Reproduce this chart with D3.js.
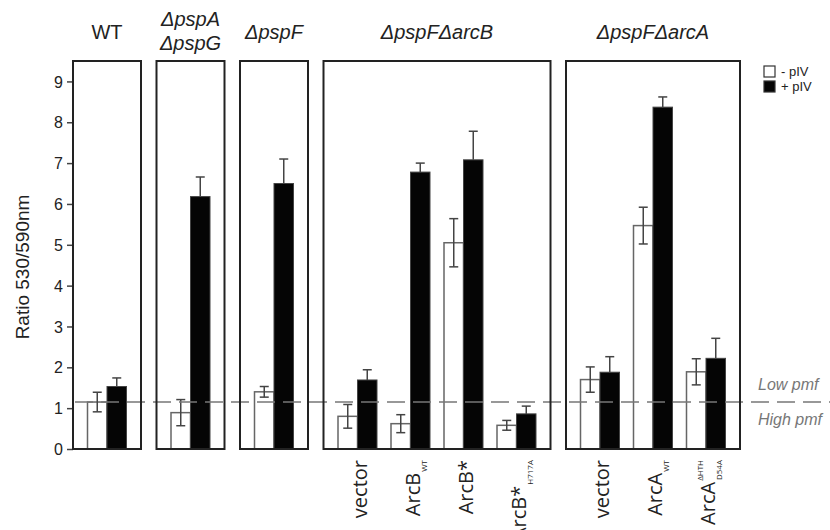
<!DOCTYPE html>
<html lang="en">
	<head>
		<meta charset="utf-8">
		<title>Ratio 530/590nm</title>
		<script type="text/javascript" src="https://cdn.jsdelivr.net/npm/d3@7"></script>
		<style type="text/css">
			body { margin: 0; background: #fff; }
			svg { display: block; }
			text { font-family: "Liberation Sans", Arial, sans-serif; fill: #222; }
			.strain { font-size: 20px; font-style: italic; text-anchor: middle; }
			.cat { font-family: "Open Sans", sans-serif; font-size: 20px; }
			.cat-small { font-family: "Open Sans", sans-serif; font-size: 8px; }
			.pmf { font-size: 16px; font-style: italic; fill: #777; }
		</style>
	</head>
	<body>
		<script type="text/javascript">

			var w = 830;
			var h = 530;

			// strains (one boxed panel each)
			var panels = ["WT", "\u0394pspA|\u0394pspG", "\u0394pspF", "\u0394pspF\u0394arcB", "\u0394pspF\u0394arcA"];

			// conditions, with the panel they sit in
			var catPanel = [0, 1, 2, 3, 3, 3, 3, 4, 4, 4];
			var catMain  = ["", "", "", "vector", "ArcB", "ArcB*", "ArcB*", "vector", "ArcA", "ArcA"];
			var catSub   = ["", "", "", "", "WT", "", "H717A", "", "WT", "D54A"];
			var catSup   = ["", "", "", "", "", "", "", "", "", "\u0394HTH"];

			// - pIV (open bars) and + pIV (filled bars), mean and error
			var minusPIV = [1.15, 0.89, 1.40, 0.80, 0.62, 5.05, 0.58, 1.70, 5.47, 1.89];
			var minusErr = [0.24, 0.32, 0.13, 0.29, 0.22, 0.59, 0.12, 0.31, 0.45, 0.32];
			var plusPIV  = [1.53, 6.18, 6.50, 1.69, 6.78, 7.08, 0.86, 1.88, 8.37, 2.22];
			var plusErr  = [0.21, 0.48, 0.60, 0.25, 0.22, 0.70, 0.19, 0.38, 0.25, 0.49];

			var yTicks = [0, 1, 2, 3, 4, 5, 6, 7, 8, 9];
			var pmfLevel = 1.15;

			// layout
			var plotLeft = 73, plotTop = 61, plotBottom = 449;
			var groupStep = 53, panelPad = 7.5, panelGap = 15.5;

			var svg = d3.select("body")
						.append("svg")
						.attr("width", w)
						.attr("height", h);

			var y = d3.scaleLinear()
						.domain([0, 9.5])
						.range([plotBottom, plotTop]);

			// one band scale per panel
			var panelScales = [];
			var cursor = plotLeft;
			panels.forEach(function(p, pi) {
				var cats = d3.range(catPanel.length).filter(function(i) { return catPanel[i] === pi; });
				var width = cats.length * groupStep + 2 * panelPad;
				var s = d3.scaleBand()
						.domain(cats)
						.range([cursor, cursor + width])
						.paddingInner(0)
						.paddingOuter(panelPad / groupStep);
				panelScales.push(s);
				cursor += width + panelGap;
			});

			function groupX(i) { return panelScales[catPanel[i]](i); }
			function groupW(i) { return panelScales[catPanel[i]].bandwidth(); }

			// bars within a group
			var inner = d3.scaleBand()
						.domain(["minus", "plus"])
						.range([0, 39]);
			function barX(i, k) { return groupX(i) + (groupW(i) - 39) / 2 + inner(k); }

			// y axis ticks
			svg.append("g")
				.attr("transform", "translate(" + plotLeft + ",0)")
				.call(d3.axisLeft(y).tickValues(yTicks).tickSize(6).tickSizeOuter(0).tickFormat(d3.format("d")))
				.call(function(g) {
					g.select(".domain").remove();
					g.selectAll(".tick line").attr("stroke", "#444").attr("stroke-width", 1.5);
					g.selectAll(".tick text").attr("x", -10).attr("dy", "0.35em")
						.attr("font-size", 16).attr("font-family", "'Liberation Sans', Arial, sans-serif").attr("fill", "#222");
				});

			svg.append("text")
				.attr("transform", "translate(29,267) rotate(-90)")
				.attr("text-anchor", "middle")
				.style("font-size", "19px")
				.text("Ratio 530/590nm");

			var idx = d3.range(catPanel.length);

			// open bars
			svg.selectAll("rect.minus")
				.data(idx)
				.enter()
				.append("rect")
				.attr("class", "minus")
				.attr("x", function(i) { return barX(i, "minus"); })
				.attr("y", function(i) { return y(minusPIV[i]); })
				.attr("width", inner.bandwidth())
				.attr("height", function(i) { return y(0) - y(minusPIV[i]); })
				.attr("fill", "#fff")
				.attr("stroke", "#666")
				.attr("stroke-width", 1.5);

			// filled bars
			svg.selectAll("rect.plus")
				.data(idx)
				.enter()
				.append("rect")
				.attr("class", "plus")
				.attr("x", function(i) { return barX(i, "plus"); })
				.attr("y", function(i) { return y(plusPIV[i]); })
				.attr("width", inner.bandwidth())
				.attr("height", function(i) { return y(0) - y(plusPIV[i]); })
				.attr("fill", "#050505")
				.attr("stroke", "#444")
				.attr("stroke-width", 1);

			// error bars: both ways on open bars, upward only on filled bars
			function errBar(cls, vals, errs, k, lowerToo) {
				var g = svg.selectAll("g." + cls)
					.data(idx)
					.enter()
					.append("g")
					.attr("class", cls)
					.attr("stroke", "#444")
					.attr("stroke-width", 1.5);
				var cx = function(i) { return barX(i, k) + inner.bandwidth() / 2; };
				var lo = function(i) { return lowerToo ? vals[i] - errs[i] : vals[i]; };
				g.append("line")
					.attr("x1", cx).attr("x2", cx)
					.attr("y1", function(i) { return y(lo(i)); })
					.attr("y2", function(i) { return y(vals[i] + errs[i]); });
				g.append("line")
					.attr("x1", function(i) { return cx(i) - 4.5; })
					.attr("x2", function(i) { return cx(i) + 4.5; })
					.attr("y1", function(i) { return y(vals[i] + errs[i]); })
					.attr("y2", function(i) { return y(vals[i] + errs[i]); });
				if (lowerToo) {
					g.append("line")
						.attr("x1", function(i) { return cx(i) - 4.5; })
						.attr("x2", function(i) { return cx(i) + 4.5; })
						.attr("y1", function(i) { return y(vals[i] - errs[i]); })
						.attr("y2", function(i) { return y(vals[i] - errs[i]); });
				}
			}
			errBar("err-minus", minusPIV, minusErr, "minus", true);
			errBar("err-plus", plusPIV, plusErr, "plus", false);

			// pmf threshold
			svg.append("line")
				.attr("x1", plotLeft + 2)
				.attr("x2", w)
				.attr("y1", y(pmfLevel))
				.attr("y2", y(pmfLevel))
				.attr("stroke", "#777")
				.attr("stroke-width", 1.5)
				.attr("stroke-dasharray", "18,8");

			svg.append("text")
				.attr("class", "pmf")
				.attr("x", 758)
				.attr("y", y(pmfLevel) - 12)
				.text("Low pmf");
			svg.append("text")
				.attr("class", "pmf")
				.attr("x", 758)
				.attr("y", y(pmfLevel) + 23)
				.text("High pmf");

			// panel frames and strain names
			panels.forEach(function(p, pi) {
				var r = panelScales[pi].range();
				svg.append("rect")
					.attr("x", r[0])
					.attr("y", plotTop)
					.attr("width", r[1] - r[0])
					.attr("height", plotBottom - plotTop)
					.attr("fill", "none")
					.attr("stroke", "#222")
					.attr("stroke-width", 2);

				var lines = p.split("|");
				var cx = (r[0] + r[1]) / 2;
				lines.forEach(function(l, li) {
					svg.append("text")
						.attr("class", "strain")
						.attr("x", cx)
						.attr("y", lines.length === 1 ? 39 : 26 + li * 24)
						.style("font-style", p === "WT" ? "normal" : "italic")
						.text(l);
				});
			});

			// condition labels, rotated
			idx.forEach(function(i) {
				if (!catMain[i]) return;
				var cx = groupX(i) + groupW(i) / 2 + 9;
				var g = svg.append("g")
						.attr("transform", "translate(" + cx + ",460) rotate(-90)");
				var extra = 0;
				if (catSub[i]) {
					var t = g.append("text").attr("class", "cat-small")
						.attr("text-anchor", "end").attr("x", 0).attr("y", 7)
						.text(catSub[i]);
					extra = Math.max(extra, t.node().getComputedTextLength());
				}
				if (catSup[i]) {
					var t2 = g.append("text").attr("class", "cat-small")
						.attr("text-anchor", "end").attr("x", 0).attr("y", -12)
						.text(catSup[i]);
					extra = Math.max(extra, t2.node().getComputedTextLength());
				}
				g.append("text")
					.attr("class", "cat")
					.attr("text-anchor", "end")
					.attr("x", extra ? -extra - 1 : 0)
					.attr("y", 0)
					.text(catMain[i]);
			});

			// legend
			var legend = svg.append("g").attr("transform", "translate(764,66)");
			[["- pIV", "#fff"], ["+ pIV", "#050505"]].forEach(function(d, k) {
				legend.append("rect")
					.attr("x", 0).attr("y", k * 15)
					.attr("width", 11).attr("height", 11)
					.attr("fill", d[1]).attr("stroke", "#333").attr("stroke-width", 1.2);
				legend.append("text")
					.attr("x", 17).attr("y", k * 15 + 10)
					.style("font-size", "13px")
					.text(d[0]);
			});

		</script>
	</body>
</html>
